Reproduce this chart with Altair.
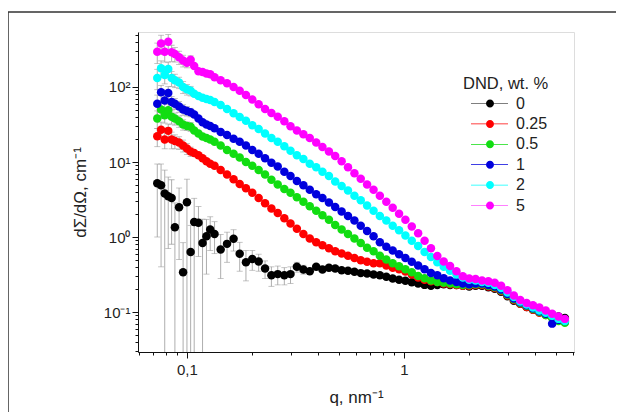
import altair as alt
import pandas as pd

# ---- data ----
q = [0.073, 0.076, 0.079, 0.082, 0.085, 0.088, 0.092, 0.096, 0.1, 0.104,
     0.108, 0.113, 0.118, 0.123, 0.128, 0.134, 0.143, 0.153, 0.164, 0.175,
     0.187, 0.2, 0.214, 0.229, 0.245, 0.262, 0.281, 0.3, 0.321, 0.344,
     0.368, 0.394, 0.421, 0.451, 0.482, 0.516, 0.552, 0.591, 0.632, 0.676,
     0.724, 0.774, 0.829, 0.887, 0.949, 1.015, 1.086, 1.162, 1.244, 1.331,
     1.424, 1.524, 1.63, 1.744, 1.866, 1.997, 2.137, 2.287, 2.447, 2.618,
     2.801, 2.997, 3.207, 3.432, 3.672, 3.929, 4.204, 4.498, 4.813, 5.15, 5.51]

series = ["0", "0.25", "0.5", "1", "2", "5"]
colors = ["#000000", "#ff0000", "#11dd11", "#0000dd", "#00ffff", "#ff00ff"]

I_0 = [5.2, 4.9, 3.8, 3.5, 3.3, 1.35, 2.5, 0.34, 2.9, 0.63,
       1.58, 1.55, 0.83, 1.02, 1.26, 1.1, 0.68, 0.81, 0.95, 0.6,
       0.46, 0.51, 0.47, 0.38, 0.31, 0.32, 0.31, 0.32, 0.40, 0.37,
       0.35, 0.40, 0.37, 0.39, 0.38, 0.36, 0.355, 0.345, 0.33, 0.325,
       0.316, 0.31, 0.295, 0.28, 0.27, 0.262, 0.25, 0.24, 0.23, 0.224,
       0.229, 0.234, 0.229, 0.229, 0.224, 0.219, 0.224, 0.224, 0.214, 0.204,
       0.186, 0.162, 0.141, 0.129, 0.117, 0.107, 0.100, 0.095, 0.093, 0.087, 0.083]
I_025 = [22, 27, 20, 26, 20, 19, 18.2, 16.6, 15.1, 13.8,
         13.2, 12.3, 11.2, 10.2, 9.5, 8.9, 7.8, 6.8, 5.9, 5.1,
         4.47, 3.89, 3.31, 2.82, 2.40, 2.09, 1.78, 1.51, 1.29, 1.10,
         0.955, 0.85, 0.776, 0.708, 0.646, 0.603, 0.562, 0.525, 0.49, 0.468,
         0.447, 0.447, 0.417, 0.389, 0.372, 0.347, 0.316, 0.288, 0.269, 0.257,
         0.251, 0.240, 0.234, 0.229, 0.224, 0.224, 0.229, 0.229, 0.219, 0.209,
         0.191, 0.166, 0.145, 0.129, 0.117, 0.107, 0.098, 0.091, 0.085, 0.079, 0.074]
I_05 = [38, 50, 42, 49, 40, 38, 35, 31.6, 30.2, 29.5,
        26.3, 24.0, 21.9, 20.9, 20.0, 18.6, 16.6, 14.5, 12.9, 11.5,
        10.0, 8.9, 7.8, 6.8, 5.8, 5.0, 4.37, 3.89, 3.39, 2.95,
        2.57, 2.24, 1.95, 1.70, 1.45, 1.26, 1.10, 0.955, 0.83, 0.72,
        0.646, 0.562, 0.50, 0.447, 0.407, 0.372, 0.339, 0.302, 0.282, 0.263,
        0.251, 0.245, 0.240, 0.234, 0.229, 0.229, 0.234, 0.234, 0.224, 0.214,
        0.195, 0.170, 0.148, 0.132, 0.120, 0.110, 0.100, 0.091, 0.083, 0.076, 0.072]
I_1 = [60, 85, 66, 83, 63, 60, 55, 50, 48, 46,
       43, 38, 34, 31.6, 30.2, 28.2, 25.1, 22.9, 20.4, 18.6,
       16.6, 14.5, 12.9, 11.2, 9.8, 8.7, 7.4, 6.5, 5.6, 4.9,
       4.27, 3.72, 3.31, 2.88, 2.51, 2.19, 1.91, 1.66, 1.41, 1.20,
       1.02, 0.85, 0.74, 0.66, 0.59, 0.525, 0.468, 0.417, 0.372, 0.331,
       0.309, 0.282, 0.263, 0.251, 0.240, 0.234, 0.240, 0.240, 0.229, 0.219,
       0.200, 0.174, 0.151, 0.135, 0.123, 0.112, 0.102, 0.095, 0.070, 0.079, 0.076]
I_2 = [132, 178, 145, 174, 132, 123, 115, 100, 93, 89,
       81, 76, 72, 69, 67, 63, 57.5, 51, 44.7, 39.8,
       35.5, 30.9, 27.5, 24.0, 20.9, 18.6, 16.2, 14.1, 12.3, 11.0,
       9.5, 8.5, 7.4, 6.5, 5.5, 4.8, 4.17, 3.55, 3.09, 2.63,
       2.24, 1.91, 1.66, 1.41, 1.23, 1.05, 0.89, 0.76, 0.63, 0.54,
       0.46, 0.40, 0.355, 0.316, 0.288, 0.269, 0.263, 0.251, 0.245, 0.229,
       0.209, 0.182, 0.158, 0.138, 0.126, 0.115, 0.105, 0.098, 0.089, 0.081, 0.076]
I_5 = [295, 380, 295, 400, 290, 275, 250, 225, 210, 230,
       190, 162, 158, 151, 148, 135, 123, 112, 100, 89,
       78, 68, 59, 51, 45, 40, 35, 30, 26.3, 23.4,
       20.9, 18.2, 15.8, 13.8, 12.0, 10.2, 8.5, 7.1, 6.0, 5.0,
       4.27, 3.55, 2.95, 2.45, 2.04, 1.70, 1.38, 1.12, 0.89, 0.71,
       0.56, 0.47, 0.41, 0.35, 0.30, 0.28, 0.275, 0.263, 0.257, 0.245,
       0.224, 0.195, 0.166, 0.145, 0.132, 0.123, 0.115, 0.105, 0.095, 0.087, 0.081]

# error bars (sigma) for the first points of each series
err_0 = [4.2, 4.5, 4.0, 2.8, 2.5, 1.5, 2.0, 0.5, 3.0, 0.8,
         1.7, 1.0, 0.9, 0.7, 0.6, 0.5, 0.4, 0.35, 0.3, 0.25,
         0.2, 0.15, 0.12, 0.1, 0.09, 0.09, 0.08, 0.08, 0.06, 0.05]
err_025 = [6, 7, 5, 6, 5, 4, 3.5, 3, 2.5, 2]
err_05 = [10, 12, 9, 10, 8, 7, 6, 5, 4, 4]
err_1 = [18, 20, 15, 18, 12, 10, 9, 8, 7, 6]
err_2 = [40, 45, 35, 40, 30, 25, 20, 18, 15, 13]
err_5 = [90, 110, 80, 100, 70, 60, 50, 40, 30, 30]

x_ticks = [0.06, 0.07, 0.08, 0.09, 0.1, 0.2, 0.3, 0.4, 0.5, 0.6, 0.7, 0.8, 0.9,
           1, 2, 3, 4, 5, 6]
y_ticks = [0.03, 0.04, 0.05, 0.06, 0.07, 0.08, 0.09, 0.1, 0.2, 0.3, 0.4, 0.5,
           0.6, 0.7, 0.8, 0.9, 1, 2, 3, 4, 5, 6, 7, 8, 9, 10, 20, 30, 40, 50,
           60, 70, 80, 90, 100, 200, 300, 400, 500]

# ---- build tables ----
values = [I_0, I_025, I_05, I_1, I_2, I_5]
errs = [err_0, err_025, err_05, err_1, err_2, err_5]
Y_MIN, Y_MAX = 0.0293, 541
X_MIN, X_MAX = 0.0595, 6.07

rows, bars, caps = [], [], []
for k, (s, vals, er) in enumerate(zip(series, values, errs)):
    for i, (qq, v) in enumerate(zip(q, vals)):
        rows.append({"q": qq, "I": v, "series": s, "ord": k})
        if i < len(er):
            lo, hi = v - er[i], v + er[i]
            caps.append({"q": qq, "y": hi})
            if lo <= Y_MIN:
                lo = Y_MIN
            else:
                caps.append({"q": qq, "y": lo})
            bars.append({"q": qq, "lo": lo, "hi": hi})

df = pd.DataFrame(rows)
dbars = pd.DataFrame(bars)
dcaps = pd.DataFrame(caps)

FONT = "Liberation Sans"
xscale = alt.Scale(type="log", domain=[X_MIN, X_MAX], nice=False)
yscale = alt.Scale(type="log", domain=[Y_MIN, Y_MAX], nice=False)

xaxis = alt.Axis(
    title="q, nm\u207b\u00b9", values=x_ticks, grid=False,
    labelExpr="datum.value == 0.1 ? '0,1' : datum.value == 1 ? '1' : ''",
    tickSize={"condition": {"test": "datum.value == 0.1 || datum.value == 1", "value": 6}, "value": 3},
    labelFontSize=15, titleFontSize=17, titleFontWeight="normal", titlePadding=12,
    labelPadding=4, labelOverlap=False, labelFlush=False,
    domainColor="#111", tickColor="#111", labelColor="#222", titleColor="#222",
    labelFont=FONT, titleFont=FONT)
yaxis = alt.Axis(
    title="d\u03a3/d\u03a9, cm\u207b\u00b9", values=y_ticks, grid=False,
    labelExpr="datum.value == 100 ? '10\u00b2' : datum.value == 10 ? '10\u00b9' : "
              "datum.value == 1 ? '10\u2070' : datum.value == 0.1 ? '10\u207b\u00b9' : ''",
    tickSize={"condition": {"test": "datum.value == 0.1 || datum.value == 1 || datum.value == 10 || datum.value == 100", "value": 6}, "value": 3},
    labelFontSize=15, titleFontSize=17, titleFontWeight="normal", titlePadding=14,
    labelPadding=2, labelOverlap=False, labelFlush=False,
    domainColor="#111", tickColor="#111", labelColor="#222", titleColor="#222",
    labelFont=FONT, titleFont=FONT)

legend_path = ("M0,-0.07 L3.0,-0.07 L3.0,0.07 L0,0.07 Z "
               "M4.6,-0.07 L7.4,-0.07 L7.4,0.07 L4.6,0.07 Z "
               "M4.6,0 A0.8,0.8 0 1 1 3.0,0 A0.8,0.8 0 1 1 4.6,0 Z")

frame = alt.Chart(pd.DataFrame({"a": [0]})).mark_rect(
    fill=None, filled=False, stroke="#333", strokeWidth=1.5
).encode(x=alt.value(-130), x2=alt.value(520), y=alt.value(-20), y2=alt.value(420))

errbars = alt.Chart(dbars).mark_rule(color="#999", strokeWidth=0.8).encode(
    x=alt.X("q:Q", scale=xscale, axis=xaxis),
    y=alt.Y("lo:Q", scale=yscale, axis=yaxis),
    y2="hi:Q")

errcaps = alt.Chart(dcaps).mark_tick(orient="horizontal", size=6, thickness=0.8, color="#999").encode(
    x=alt.X("q:Q", scale=xscale),
    y=alt.Y("y:Q", scale=yscale))

points = alt.Chart(df).mark_circle(size=72, opacity=1).encode(
    x=alt.X("q:Q", scale=xscale),
    y=alt.Y("I:Q", scale=yscale),
    color=alt.Color("series:N", scale=alt.Scale(domain=series, range=colors),
                    legend=alt.Legend(
                        title="DND, wt. %", orient="none", legendX=325, legendY=44,
                        symbolType=legend_path, symbolSize=100, symbolStrokeWidth=0,
                        labelOffset=37, labelFontSize=16, titleFontSize=16.5,
                        titleFontWeight="normal", titlePadding=3, rowPadding=4.4,
                        labelFont=FONT, titleFont=FONT, labelColor="#222",
                        titleColor="#222")),
    order=alt.Order("ord:Q"))

chart = alt.layer(frame, errbars, errcaps, points).properties(
    width=436, height=320,
    autosize="none",
    padding={"left": 130, "top": 24, "right": 42, "bottom": 60},
).configure_view(stroke=None).configure(background="white")

chart.save("out.html", embed_options={"renderer": "svg", "actions": False})
